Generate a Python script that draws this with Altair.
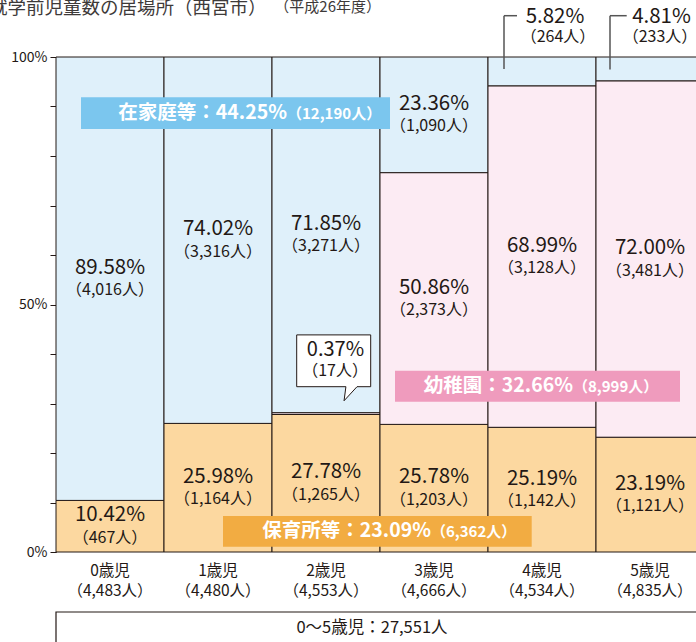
import altair as alt
import pandas as pd

# ---------------- data ----------------
ages = ["0歳児", "1歳児", "2歳児", "3歳児", "4歳児", "5歳児"]
age_totals = ["4,483", "4,480", "4,553", "4,666", "4,534", "4,835"]
categories = ["保育所等", "幼稚園", "在家庭等"]
hoiku_pct = [10.42, 25.98, 27.78, 25.78, 25.19, 23.19]
hoiku_n = ["467", "1,164", "1,265", "1,203", "1,142", "1,121"]
youchien_pct = [0.0, 0.0, 0.37, 50.86, 68.99, 72.00]
youchien_n = ["0", "0", "17", "2,373", "3,128", "3,481"]
katei_pct = [89.58, 74.02, 71.85, 23.36, 5.82, 4.81]
katei_n = ["4,016", "3,316", "3,271", "1,090", "264", "233"]
total_label = "0〜5歳児：27,551人"
summary_main = ["在家庭等：44.25%", "幼稚園：32.66%", "保育所等：23.09%"]
summary_sub = ["（12,190人）", "（8,999人）", "（6,362人）"]
title_main = "就学前児童数の居場所（西宮市）"
title_sub = "（平成26年度）"

# ---------------- style ----------------
FONT = "Noto Sans CJK JP"
DARK = "#231815"
BLUE = "#dff0fa"
PINK = "#fcebf3"
ORANGE = "#fcd8a0"
B_BLUE = "#7bc6ee"
B_PINK = "#ef9bbd"
B_ORANGE = "#f2ac42"
PCT_SIZE = 20.5
N_SIZE = 16

rows = []
series = [("保育所等", hoiku_pct, hoiku_n), ("幼稚園", youchien_pct, youchien_n),
          ("在家庭等", katei_pct, katei_n)]
for i in range(len(ages)):
    base = 0.0
    for cat, pcts, ns in series:
        p = pcts[i]
        rows.append(dict(age=ages[i], i=i, x0=i, x1=i + 1, xc=i + 0.5, cat=cat,
                         y0=base, y1=base + p, mid=base + p / 2, p=p,
                         pct=f"{p:.2f}%", n=f"（{ns[i]}人）"))
        base += p
df = pd.DataFrame(rows)
df = df[df.p > 0]
inside = df[df.p >= 10]

ages_df = pd.DataFrame(dict(age=ages, xc=[i + 0.5 for i in range(len(ages))],
                            tot=[f"（{t}人）" for t in age_totals]))
one = pd.DataFrame({"k": [0]})

xscale = alt.Scale(domain=[0, 640 / 108], nice=False, zero=False)
yscale = alt.Scale(domain=[0, 100], nice=False)
yaxis = alt.Axis(values=list(range(0, 101, 10)),
                 labelExpr="datum.value % 50 == 0 ? datum.value + '%' : ''",
                 tickSize=6, domainColor=DARK, tickColor=DARK, labelColor=DARK,
                 labelFontSize=14, labelFont=FONT, title=None, grid=False,
                 labelPadding=3, labelOverlap=False, labelFlush=False)

bars = alt.Chart(df).mark_rect(stroke=DARK, strokeWidth=1).encode(
    x=alt.X("x0:Q", scale=xscale, axis=None), x2="x1:Q",
    y=alt.Y("y0:Q", scale=yscale, axis=yaxis), y2="y1:Q",
    color=alt.Color("cat:N", scale=alt.Scale(domain=categories, range=[ORANGE, PINK, BLUE]),
                    legend=None))

lab_pct = alt.Chart(inside).mark_text(font=FONT, fontSize=PCT_SIZE, color=DARK, dy=-11).encode(
    x=alt.X("xc:Q", scale=xscale), y=alt.Y("mid:Q", scale=yscale), text="pct:N")
lab_n = alt.Chart(inside).mark_text(font=FONT, fontSize=N_SIZE, color=DARK, dy=11.5).encode(
    x=alt.X("xc:Q", scale=xscale), y=alt.Y("mid:Q", scale=yscale), text="n:N")

xl1 = alt.Chart(ages_df).mark_text(font=FONT, fontSize=15.5, color=DARK).encode(
    x=alt.X("xc:Q", scale=xscale), y=alt.value(514), text="age:N")
xl2 = alt.Chart(ages_df).mark_text(font=FONT, fontSize=15.5, color=DARK).encode(
    x=alt.X("xc:Q", scale=xscale), y=alt.value(533.5), text="tot:N")


def ptext(txt, x, y, size, align="center", color=DARK, weight="normal", baseline="middle"):
    return alt.Chart(one).mark_text(font=FONT, fontSize=size, color=color, align=align,
                                    fontWeight=weight, baseline=baseline).encode(
        x=alt.value(x), y=alt.value(y), text=alt.value(txt))


def prect(x, x2, y, y2, **kw):
    return alt.Chart(one).mark_rect(**kw).encode(
        x=alt.value(x), x2=alt.value(x2), y=alt.value(y), y2=alt.value(y2))


def hrule(x, x2, y, color="#555555", w=1.5):
    return alt.Chart(one).mark_rule(color=color, strokeWidth=w).encode(
        x=alt.value(x), x2=alt.value(x2), y=alt.value(y))


def vrule(x, y, y2, color="#555555", w=1.5):
    return alt.Chart(one).mark_rule(color=color, strokeWidth=w).encode(
        x=alt.value(x), y=alt.value(y), y2=alt.value(y2))


layers = [bars, lab_pct, lab_n, xl1, xl2]

# banners
banner_specs = [
    (B_BLUE, 25, 334, 40.3, 72, 231, 56),
    (B_PINK, 339, 624, 313.7, 344.7, 517, 329),
    (B_ORANGE, 167, 475.7, 459, 489.7, 375, 474),
]
for k, (col, bx, bx2, by, by2, split, ty) in enumerate(banner_specs):
    layers.append(prect(bx, bx2, by, by2, color=col))
    layers.append(ptext(summary_main[k], split, ty, 19.5, align="right", color="white", weight="bold"))
    layers.append(ptext(summary_sub[k], split, ty + 1, 15, align="left", color="white", weight="bold"))

# callout for 2歳 kindergarten
callout_path = "M -1 -0.7 L 1 -0.7 L 1 0.7 L 0.63 0.7 L 0.28 1.08 L 0.33 0.7 L -1 0.7 Z"
layers.append(alt.Chart(one).mark_point(shape=callout_path, size=74 * 74, filled=True,
                                        fill="white", stroke=DARK, strokeWidth=1,
                                        opacity=1, fillOpacity=1).encode(
    x=alt.value(277.7), y=alt.value(303.8)))
layers.append(ptext(f"{youchien_pct[2]:.2f}%", 279.5, 293, PCT_SIZE - 0.5))
layers.append(ptext(f"（{youchien_n[2]}人）", 279, 313.5, N_SIZE))

# top callouts for 4歳 / 5歳 at-home
layers += [
    vrule(448, -41.3, 12), hrule(448, 461, -41.3),
    ptext(f"{katei_pct[4]:.2f}%", 499, -40, PCT_SIZE), ptext(f"（{katei_n[4]}人）", 502, -20, N_SIZE),
    vrule(554, -41.3, 12.5), hrule(554, 570.7, -41.3),
    ptext(f"{katei_pct[5]:.2f}%", 605.5, -40, PCT_SIZE), ptext(f"（{katei_n[5]}人）", 604, -20, N_SIZE),
]

# title
layers.append(ptext(title_main, -67, -43, 18.5, align="left", color="#3e3a39", baseline="alphabetic"))
layers.append(ptext(title_sub, 325, -45, 15, align="right", color="#3e3a39", baseline="alphabetic"))

# bottom total box
layers.append(prect(0, 700, 555, 600, fill="white", stroke=DARK, strokeWidth=1.2))
layers.append(ptext(total_label, 316, 571, 16.5))

chart = alt.layer(*layers).properties(
    width=640, height=495,
    autosize=alt.AutoSizeParams(type="none"),
    padding={"left": 56, "top": 57, "right": 0, "bottom": 90},
).configure_view(stroke=None)

chart.save("out.html", embed_options={"renderer": "svg", "actions": False})
